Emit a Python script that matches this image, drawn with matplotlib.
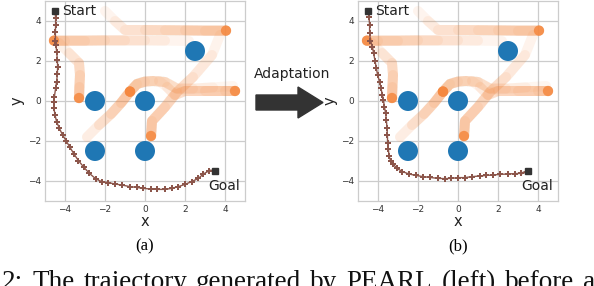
import matplotlib
matplotlib.use("Agg")
import matplotlib.pyplot as plt
from matplotlib.patches import Circle, FancyArrow
import numpy as np

# ---------------- data ----------------
ticks = [-4, -2, 0, 2, 4]
obstacles_x = [-2.5, 0.0, 2.5, -2.5, 0.0]
obstacles_y = [0.0, 0.0, 2.5, -2.5, -2.5]
obstacle_r = 0.5

start_pt = (-4.5, 4.5)
goal_pt = (3.5, -3.5)

# orange exploration trajectories (faint start -> strong end)
traj1_x = [-2.0, -1.5, -1.0, 0.0, 1.0, 2.0, 3.0, 4.05]
traj1_y = [4.5, 4.0, 3.55, 3.55, 3.54, 3.53, 3.52, 3.52]
traj2_x = [2.2, 1.0, 0.0, -1.0, -2.0, -3.0, -4.0, -4.55]
traj2_y = [3.0, 3.02, 3.03, 3.03, 3.03, 3.02, 3.02, 3.02]
traj3_x = [-4.3, -3.8, -3.3, -3.25, -3.28, -3.3]
traj3_y = [2.9, 2.4, 1.9, 1.3, 0.7, 0.15]
traj4_x = [-2.9, -2.3, -1.7, -1.2, -0.75]
traj4_y = [-1.8, -1.2, -0.65, -0.1, 0.47]
traj5_x = [4.4, 3.4, 2.4, 1.6, 1.0, 0.4, 0.0, -0.4, -0.75]
traj5_y = [0.75, 0.68, 0.62, 0.62, 0.95, 1.0, 0.97, 0.85, 0.47]
traj6_x = [3.75, 3.35, 2.4, 1.6, 1.0, 0.35, 0.3]
traj6_y = [3.3, 2.3, 1.2, 0.45, -0.3, -1.0, -1.75]
traj7_x = [0.7, 1.1, 1.5, 2.0, 3.0, 4.0, 4.5]
traj7_y = [1.0, 0.7, 0.3, 0.5, 0.5, 0.5, 0.5]
trajs = [(traj1_x, traj1_y), (traj2_x, traj2_y), (traj3_x, traj3_y),
         (traj4_x, traj4_y), (traj5_x, traj5_y), (traj6_x, traj6_y),
         (traj7_x, traj7_y)]

# agent path, before adaptation (a)
path_a_x = [-4.5, -4.47, -4.47, -4.48, -4.48, -4.45, -4.42, -4.38, -4.37, -4.38,
            -4.42, -4.47, -4.53, -4.55, -4.55, -4.5, -4.42, -4.28, -4.12, -3.95,
            -3.75, -3.55, -3.33, -3.05, -2.78, -2.45, -2.17, -1.83, -1.5, -1.17,
            -0.75, -0.42, -0.08, 0.28, 0.62, 1.0, 1.33, 1.67, 2.0, 2.33,
            2.67, 2.92, 3.22]
path_a_y = [4.5, 4.13, 3.8, 3.43, 3.02, 2.8, 2.47, 2.05, 1.72, 1.35,
            0.97, 0.63, 0.22, -0.03, -0.37, -0.7, -1.03, -1.37, -1.7, -1.98,
            -2.32, -2.65, -2.98, -3.32, -3.62, -3.9, -4.03, -4.08, -4.15, -4.2,
            -4.28, -4.32, -4.37, -4.4, -4.42, -4.42, -4.37, -4.28, -4.17, -4.03,
            -3.87, -3.65, -3.48]
# agent path, after adaptation (b)
path_b_x = [-4.5, -4.45, -4.42, -4.42, -4.38, -4.28, -4.22, -4.15, -4.08, -4.02,
            -3.92, -3.85, -3.78, -3.73, -3.68, -3.62, -3.58, -3.55, -3.53, -3.52,
            -3.48, -3.45, -3.37, -3.25, -3.05, -2.78, -2.45, -2.12, -1.75, -1.42,
            -1.0, -0.67, -0.33, 0.0, 0.33, 0.72, 1.08, 1.42, 1.75, 2.08,
            2.5, 2.83, 3.17]
path_b_y = [4.5, 4.18, 3.8, 3.42, 3.02, 2.72, 2.38, 2.02, 1.63, 1.3,
            0.97, 0.63, 0.3, 0.05, -0.28, -0.62, -0.95, -1.37, -1.7, -2.08,
            -2.42, -2.75, -2.98, -3.15, -3.37, -3.53, -3.65, -3.72, -3.78, -3.82,
            -3.87, -3.88, -3.87, -3.83, -3.83, -3.78, -3.75, -3.72, -3.7, -3.67,
            -3.65, -3.63, -3.62]

panel_labels = ["(a)", "(b)"]
arrow_text = "Adaptation"
caption_words = ["2:", "The", "trajectory", "generated", "by", "PEARL",
                 "(left)", "before", "a"]

# ---------------- drawing ----------------
W, H = 594, 286
fig = plt.figure(figsize=(W / 100, H / 100), dpi=100)

ORANGE = "#f5883f"
BLUE = "#1f77b4"
BROWN = "#8c564b"
GRID = "#cccccc"


def px_axes(x0, y0, w, h):
    return fig.add_axes([x0 / W, 1 - (y0 + h) / H, w / W, h / H])


def draw_panel(ax, px, py, label):
    ax.set_xlim(-5, 5)
    ax.set_ylim(-5, 5)
    ax.set_xticks(ticks)
    ax.set_yticks(ticks)
    ax.grid(True, color=GRID, lw=0.9, zorder=0)
    ax.set_axisbelow(True)
    for s in ax.spines.values():
        s.set_color(GRID)
        s.set_linewidth(0.9)
    ax.tick_params(length=0, labelsize=6.5, pad=3, colors="#333333")
    ax.set_xlabel("x", fontsize=10.5, labelpad=0, color="#222222")
    ax.set_ylabel("y", fontsize=10.5, labelpad=2, color="#222222")

    lw = 7.2
    for tx, ty in trajs:
        n = len(tx)
        a = 1 - 0.5 ** (1.0 / (n - 1))
        for k in range(n - 1):
            ax.plot(tx[k:], ty[k:], color=ORANGE, alpha=a * 0.9, lw=lw,
                    solid_capstyle="round", solid_joinstyle="round", zorder=2)
        ax.scatter([tx[-1]], [ty[-1]], s=55, color=ORANGE, alpha=0.85,
                   edgecolors="none", zorder=3)

    for ox, oy in zip(obstacles_x, obstacles_y):
        ax.add_patch(Circle((ox, oy), obstacle_r, color=BLUE, zorder=4, lw=0))

    ax.plot(px, py, color=BROWN, lw=1.0, marker="P", ms=4.3, mew=0,
            zorder=5)
    ax.plot([px[-1], goal_pt[0]], [py[-1], goal_pt[1]], color=BROWN, lw=1.6,
            zorder=5)
    ax.plot([start_pt[0], goal_pt[0]], [start_pt[1], goal_pt[1]], ls="none",
            marker="s", ms=5, color="#333333", zorder=6)
    ax.text(start_pt[0] + 0.35, start_pt[1], "Start", fontsize=10,
            va="center", ha="left", color="#222222", zorder=7)
    ax.text(goal_pt[0] - 0.35, goal_pt[1] - 0.75, "Goal", fontsize=10,
            va="center", ha="left", color="#222222", zorder=7)
    ax.text(0.5, -0.225, label, transform=ax.transAxes, ha="center",
            va="center", fontsize=12, family="Liberation Serif")


ax1 = px_axes(45, 1, 200, 200)
draw_panel(ax1, path_a_x, path_a_y, panel_labels[0])
ax2 = px_axes(358, 1, 200, 200)
draw_panel(ax2, path_b_x, path_b_y, panel_labels[1])

# adaptation arrow (figure pixel coordinates)
fig.text(292 / W, 1 - 74 / H, arrow_text, ha="center", va="center",
         fontsize=10, color="#222222")
arr = FancyArrow(256 / W, 1 - 102.5 / H, 67 / W, 0, width=15 / H,
                 head_width=31 / H, head_length=25 / W,
                 length_includes_head=True, color="#333333",
                 transform=fig.transFigure)
fig.add_artist(arr)

# justified caption line (cut at the bottom / edges like the reference)
renderer = fig.canvas.get_renderer()
fs = 19.5
widths = []
for wd in caption_words:
    t = fig.text(0, 0, wd, fontsize=fs, family="Liberation Serif")
    widths.append(t.get_window_extent(renderer).width)
    t.remove()
x0 = 23 - widths[0]
x1 = 595
gap = (x1 - x0 - sum(widths)) / (len(caption_words) - 1)
x = x0
for wd, w in zip(caption_words, widths):
    fig.text(x / W, 1 - 289 / H, wd, ha="left", va="baseline", fontsize=fs,
             family="Liberation Serif", color="#111111")
    x += w + gap

fig.savefig("out.png", dpi=100)
